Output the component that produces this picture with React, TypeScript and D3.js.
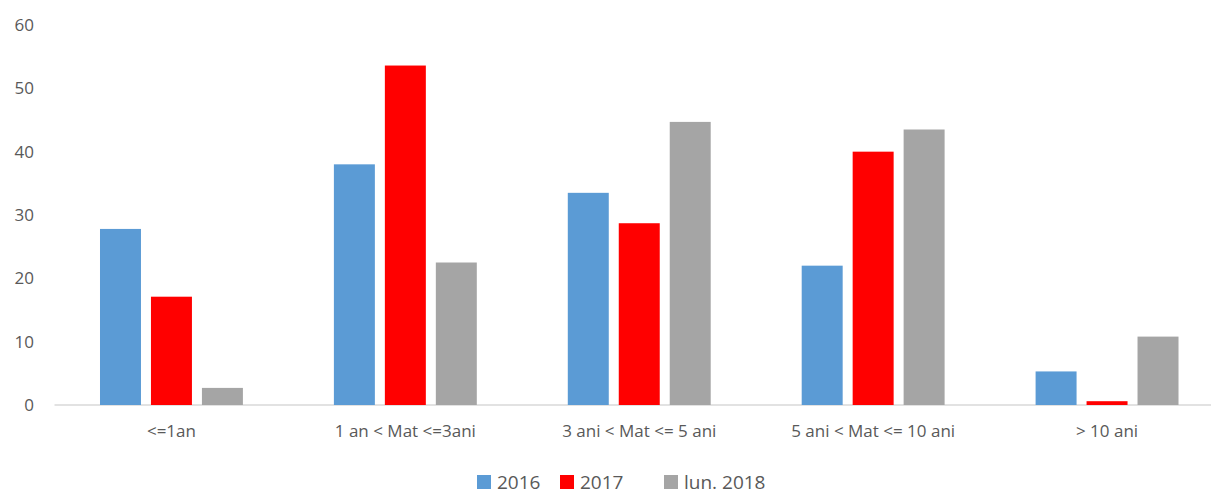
import React from "react";
import * as d3 from "d3";

const categories = ["<=1an", "1 an < Mat <=3ani", "3 ani < Mat <= 5 ani", "5 ani < Mat <= 10 ani", "> 10 ani"];
const seriesNames = ["2016", "2017", "lun. 2018"];
const values2016 = [27.8, 38.0, 33.5, 22.0, 5.3];
const values2017 = [17.1, 53.6, 28.7, 40.0, 0.6];
const values2018 = [2.7, 22.5, 44.7, 43.5, 10.8];
const yTicks = [0, 10, 20, 30, 40, 50, 60];
const colors = ["#5b9bd5", "#ff0000", "#a5a5a5"];

const W = 1211;
const H = 495;
const FONT = "'Open Sans', sans-serif";

export default function App() {
  const series = [values2016, values2017, values2018];
  const x0 = d3.scaleBand<string>().domain(categories).range([54.5, 1224]).paddingInner(0.389).paddingOuter(0.1945);
  const x1 = d3.scaleBand<number>().domain([0, 1, 2]).range([0, x0.bandwidth()]).paddingInner(0.196).paddingOuter(0);
  const y = d3.scaleLinear().domain([0, 60]).range([405, 25]);

  const legendItems = [
    { x: 477, tx: 497 },
    { x: 560, tx: 580 },
    { x: 664, tx: 684 },
  ];

  return (
    <svg width={W} height={H} style={{ position: "absolute", left: 0, top: 0, background: "#fff" }}>
      <rect width={W} height={H} fill="#fff" />
      {yTicks.map((t) => (
        <text key={t} x={34} y={y(t)} dy="0.35em" textAnchor="end" fontFamily={FONT} fontSize={17} fill="#595959">
          {t}
        </text>
      ))}
      <line x1={54.5} x2={1211} y1={y(0)} y2={y(0)} stroke="#d9d9d9" strokeWidth={1.5} />
      {categories.map((c, i) => (
        <g key={c} transform={`translate(${x0(c)},0)`}>
          {series.map((vals, s) => (
            <rect key={s} x={x1(s)} y={y(vals[i])} width={x1.bandwidth()} height={y(0) - y(vals[i])} fill={colors[s]} />
          ))}
          <text x={x0.bandwidth() / 2} y={437} textAnchor="middle" fontFamily={FONT} fontSize={17} fill="#595959">
            {c}
          </text>
        </g>
      ))}
      {seriesNames.map((n, i) => (
        <g key={n}>
          <rect x={legendItems[i].x} y={475} width={14} height={14} fill={colors[i]} />
          <text x={legendItems[i].tx} y={489} fontFamily={FONT} fontSize={19} fill="#595959">
            {n}
          </text>
        </g>
      ))}
    </svg>
  );
}
